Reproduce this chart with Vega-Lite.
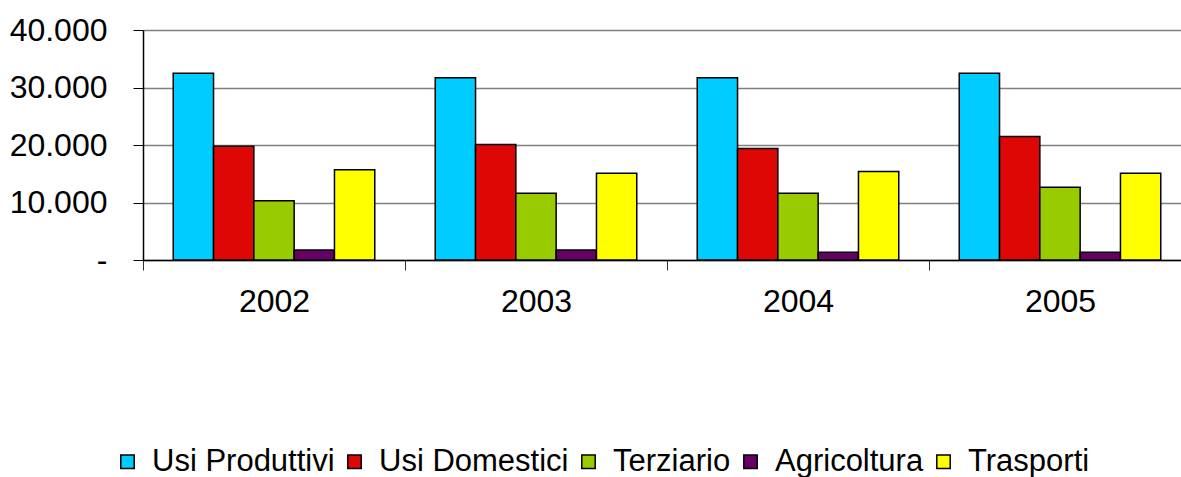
{
  "$schema": "https://vega.github.io/schema/vega-lite/v6.json",
  "autosize": "none",
  "padding": {"left": 143, "top": 30, "right": 0, "bottom": 217},
  "width": 1048,
  "height": 230,
  "background": "white",
  "config": {
    "view": {"stroke": null},
    "font": "Liberation Sans"
  },
  "data": {
    "values": [
      {"anno": "2002", "settore": "Usi Produttivi", "valore": 32500},
      {"anno": "2002", "settore": "Usi Domestici", "valore": 19800},
      {"anno": "2002", "settore": "Terziario", "valore": 10300},
      {"anno": "2002", "settore": "Agricoltura", "valore": 1750},
      {"anno": "2002", "settore": "Trasporti", "valore": 15700},
      {"anno": "2003", "settore": "Usi Produttivi", "valore": 31700},
      {"anno": "2003", "settore": "Usi Domestici", "valore": 20100},
      {"anno": "2003", "settore": "Terziario", "valore": 11600},
      {"anno": "2003", "settore": "Agricoltura", "valore": 1750},
      {"anno": "2003", "settore": "Trasporti", "valore": 15100},
      {"anno": "2004", "settore": "Usi Produttivi", "valore": 31700},
      {"anno": "2004", "settore": "Usi Domestici", "valore": 19400},
      {"anno": "2004", "settore": "Terziario", "valore": 11600},
      {"anno": "2004", "settore": "Agricoltura", "valore": 1350},
      {"anno": "2004", "settore": "Trasporti", "valore": 15400},
      {"anno": "2005", "settore": "Usi Produttivi", "valore": 32500},
      {"anno": "2005", "settore": "Usi Domestici", "valore": 21500},
      {"anno": "2005", "settore": "Terziario", "valore": 12650},
      {"anno": "2005", "settore": "Agricoltura", "valore": 1350},
      {"anno": "2005", "settore": "Trasporti", "valore": 15100}
    ]
  },
  "mark": {"type": "bar", "stroke": "black", "strokeWidth": 1.5},
  "encoding": {
    "x": {
      "field": "anno",
      "type": "nominal",
      "scale": {"paddingInner": 0, "paddingOuter": 0},
      "axis": {
        "title": null,
        "labelAngle": 0,
        "labelFontSize": 32,
        "labelColor": "black",
        "labelPadding": 16,
        "domainColor": "black",
        "domainWidth": 1.5,
        "tickColor": "#333333",
        "tickSize": 10,
        "tickWidth": 1,
        "tickBand": "extent",
        "grid": false
      }
    },
    "xOffset": {
      "field": "settore",
      "type": "nominal",
      "sort": ["Usi Produttivi", "Usi Domestici", "Terziario", "Agricoltura", "Trasporti"],
      "scale": {"paddingInner": 0, "paddingOuter": 0.75}
    },
    "y": {
      "field": "valore",
      "type": "quantitative",
      "scale": {"domain": [0, 40000], "nice": false},
      "axis": {
        "title": null,
        "values": [0, 10000, 20000, 30000, 40000],
        "labelExpr": "datum.value == 0 ? '-' : replace(format(datum.value, ','), ',', '.')",
        "labelFontSize": 32,
        "labelColor": "black",
        "labelPadding": 26,
        "tickSize": 10,
        "tickColor": "black",
        "domainColor": "black",
        "domainWidth": 1.5,
        "grid": true,
        "gridColor": "#808080",
        "gridWidth": 1.5
      }
    },
    "color": {
      "field": "settore",
      "type": "nominal",
      "scale": {
        "domain": ["Usi Produttivi", "Usi Domestici", "Terziario", "Agricoltura", "Trasporti"],
        "range": ["#00CCFF", "#DD0806", "#99CC00", "#660066", "#FFFF00"]
      },
      "legend": {
        "title": null,
        "orient": "none",
        "direction": "horizontal",
        "legendX": -31,
        "legendY": 416,
        "symbolType": "square",
        "symbolSize": 180,
        "symbolStrokeColor": "black",
        "symbolStrokeWidth": 1.5,
        "symbolOpacity": 1,
        "labelFontSize": 31,
        "labelColor": "black",
        "labelOffset": 9,
        "columnPadding": 4,
        "labelLimit": 400
      }
    }
  }
}
